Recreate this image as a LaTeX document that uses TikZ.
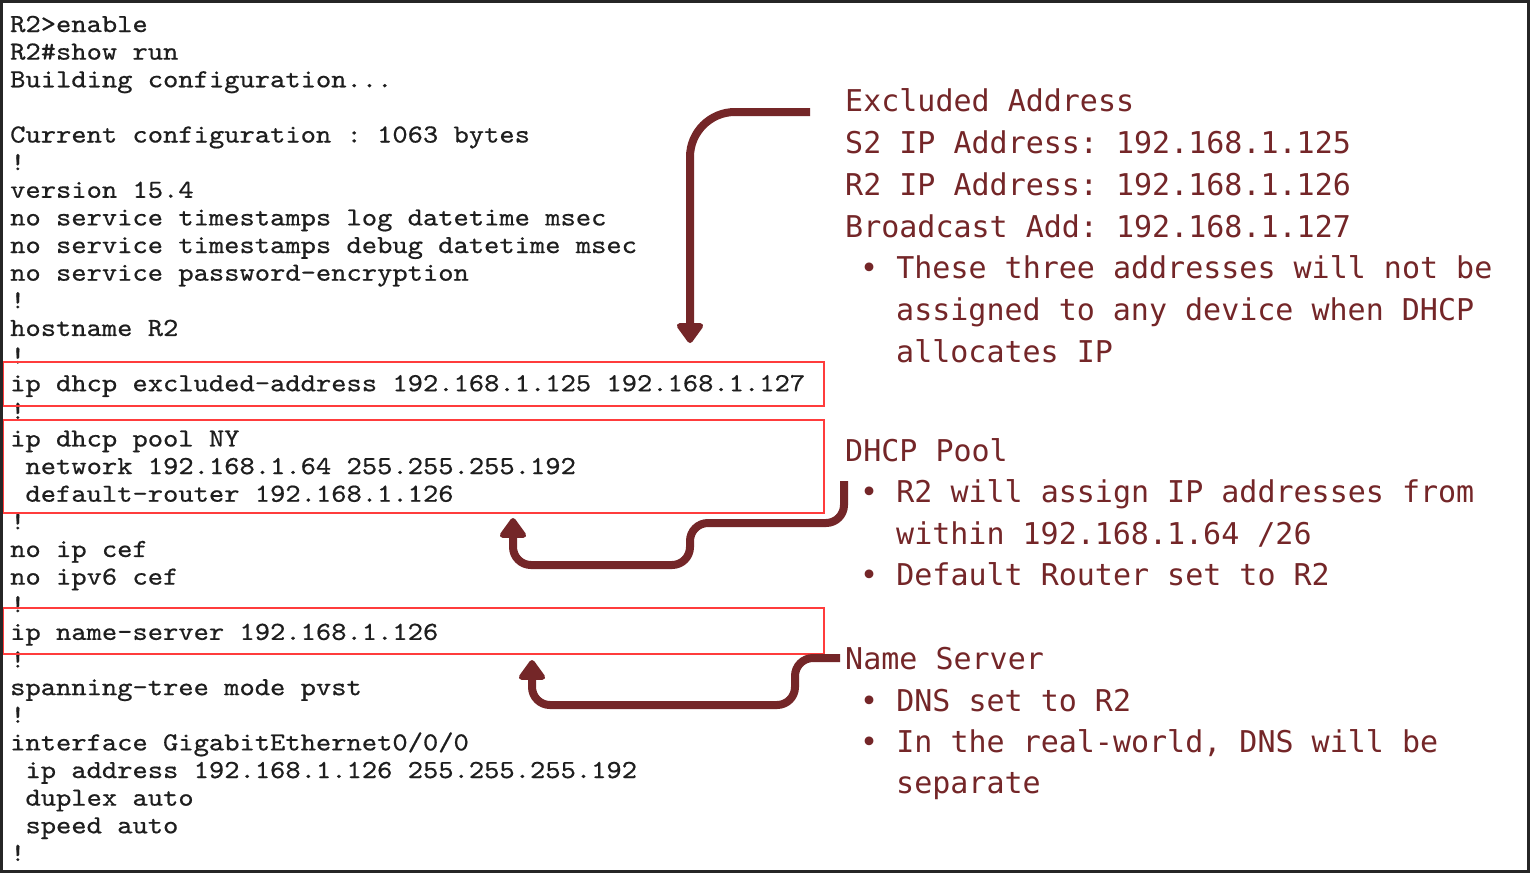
\documentclass[tikz,border=0pt]{standalone}
\usepackage{fontspec}
\usetikzlibrary{arrows.meta}
\newfontfamily\termfont[Extension=.otf,FakeStretch=1.12,FakeBold=0.6]{lmmono10-regular}
\newfontfamily\notefont{DejaVu Sans Mono}
\definecolor{maroon}{RGB}{116,38,40}
\definecolor{termink}{RGB}{30,30,30}
\definecolor{boxred}{RGB}{255,60,60}
\definecolor{frameink}{RGB}{38,38,38}
\frenchspacing
\begin{document}
\begin{tikzpicture}[x=1pt,y=-1pt,
  term/.style={anchor=base west,inner sep=0pt,font=\termfont\fontsize{26}{27}\selectfont\frenchspacing,text=termink},
  note/.style={anchor=base west,inner sep=0pt,font=\notefont\fontsize{30}{32}\selectfont\frenchspacing,text=maroon},
  redbox/.style={draw=boxred,line width=1.5pt,inner sep=0pt,outer sep=0pt,anchor=north west},
  callout/.style={draw=maroon,line width=8pt,rounded corners=18pt,-{Triangle[width=30pt,length=22pt,round]}}]
\useasboundingbox (0,0) rectangle (1530,873);
\fill[white] (0,0) rectangle (1530,873);

% terminal listing
\node[term] (t0)  at (10,{32+27.63*0})  {R2>enable};
\node[term] (t1)  at (10,{32+27.63*1})  {R2\#show run};
\node[term] (t2)  at (10,{32+27.63*2})  {Building configuration...};
\node[term] (t4)  at (10,{32+27.63*4})  {Current configuration : 1063 bytes};
\node[term] (t5)  at (10,{32+27.63*5})  {!};
\node[term] (t6)  at (10,{32+27.63*6})  {version 15.4};
\node[term] (t7)  at (10,{32+27.63*7})  {no service timestamps log datetime msec};
\node[term] (t8)  at (10,{32+27.63*8})  {no service timestamps debug datetime msec};
\node[term] (t9)  at (10,{32+27.63*9})  {no service password-encryption};
\node[term] (t10) at (10,{32+27.63*10}) {!};
\node[term] (t11) at (10,{32+27.63*11}) {hostname R2};
\node[term] (t12) at (10,{32+27.63*12}) {!};
\node[term] (t13) at (10,{32+27.63*13}) {ip dhcp excluded-address 192.168.1.125 192.168.1.127};
\node[term] (t14) at (10,{32+27.63*14}) {!};
\node[term] (t15) at (10,{32+27.63*15}) {ip dhcp pool NY};
\node[term] (t16) at (25.3,{32+27.63*16}) {network 192.168.1.64 255.255.255.192};
\node[term] (t17) at (25.3,{32+27.63*17}) {default-router 192.168.1.126};
\node[term] (t18) at (10,{32+27.63*18}) {!};
\node[term] (t19) at (10,{32+27.63*19}) {no ip cef};
\node[term] (t20) at (10,{32+27.63*20}) {no ipv6 cef};
\node[term] (t21) at (10,{32+27.63*21}) {!};
\node[term] (t22) at (10,{32+27.63*22}) {ip name-server 192.168.1.126};
\node[term] (t23) at (10,{32+27.63*23}) {!};
\node[term] (t24) at (10,{32+27.63*24}) {spanning-tree mode pvst};
\node[term] (t25) at (10,{32+27.63*25}) {!};
\node[term] (t26) at (10,{32+27.63*26}) {interface GigabitEthernet0/0/0};
\node[term] (t27) at (25.3,{32+27.63*27}) {ip address 192.168.1.126 255.255.255.192};
\node[term] (t28) at (25.3,{32+27.63*28}) {duplex auto};
\node[term] (t29) at (25.3,{32+27.63*29}) {speed auto};
\node[term] (t30) at (10,{32+27.63*30}) {!};

% highlight boxes
\node[redbox,minimum width=821pt,minimum height=44pt] (exBox) at (3,362) {};
\node[redbox,minimum width=821pt,minimum height=93pt] (poolBox) at (3,420) {};
\node[redbox,minimum width=821pt,minimum height=46pt] (nsBox) at (3,608) {};

% notes
\node[note] (n1)  at (845,111.7) {Excluded Address};
\node[note] (n2)  at (845,153.5) {S2 IP Address: 192.168.1.125};
\node[note] (n3)  at (845,195.3) {R2 IP Address: 192.168.1.126};
\node[note] (n4)  at (845,237.1) {Broadcast Add: 192.168.1.127};
\node[note] (n5)  at (860,278.9) {• These three addresses will not be};
\node[note] (n6)  at (896,320.7) {assigned to any device when DHCP};
\node[note] (n7)  at (896,362.5) {allocates IP};
\node[note] (n8)  at (845,461.7) {DHCP Pool};
\node[note] (n9)  at (860,502.7) {• R2 will assign IP addresses from};
\node[note] (n10) at (896,544.0) {within 192.168.1.64 /26};
\node[note] (n11) at (860,585.7) {• Default Router set to R2};
\node[note] (n12) at (845,669.3) {Name Server};
\node[note] (n13) at (860,711.0) {• DNS set to R2};
\node[note] (n14) at (860,752.7) {• In the real-world, DNS will be};
\node[note] (n15) at (896,793.3) {separate};

% callout arrows
\coordinate (exStart) at (810,112);
\coordinate (exTip) at (690,343);
\coordinate (dpStart) at (844,481);
\coordinate (dpTip) at (513,518);
\coordinate (nsStart) at (840,658);
\coordinate (nsTip) at (532,660);
\draw[callout,rounded corners=45pt] (exStart) -| (exTip);
\draw[callout] (dpStart) |- (690,523) |- (513,565) -- (dpTip);
\draw[callout] (nsStart) -| (795,705) -| (nsTip);

% frame
\draw[frameink,line width=3pt] (1.5,1.5) rectangle (1528.5,871.5);
\end{tikzpicture}
\end{document}
